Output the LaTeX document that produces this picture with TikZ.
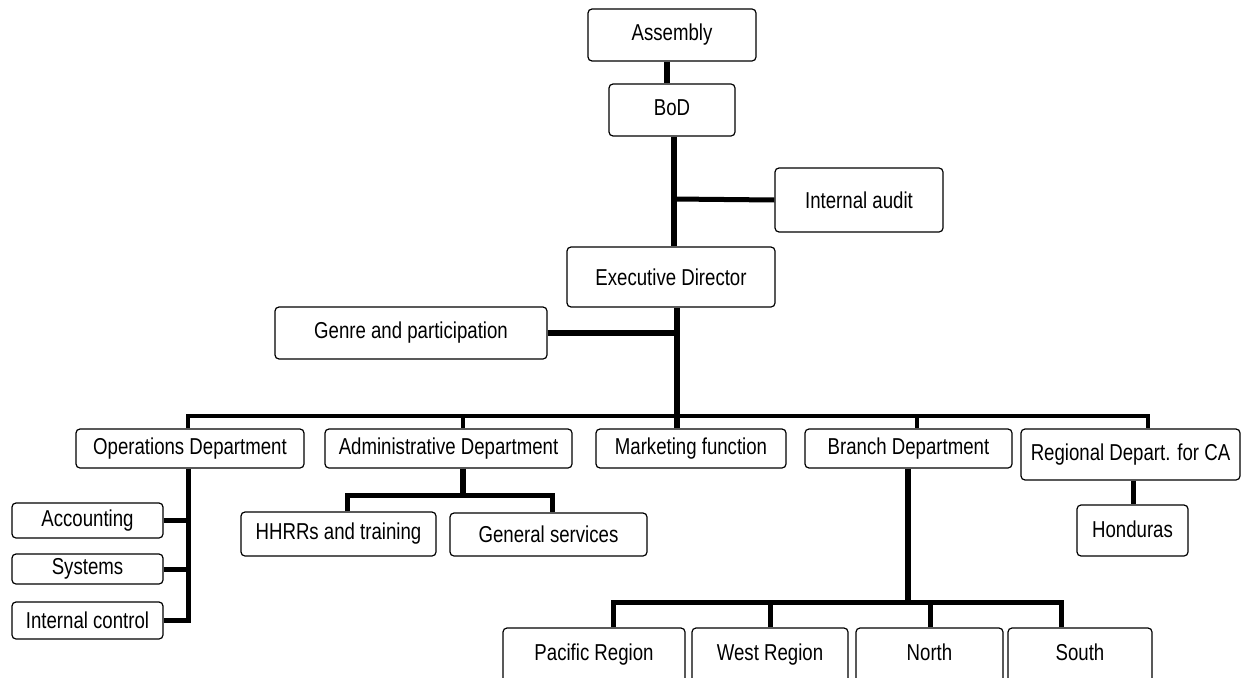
\documentclass[tikz,border=0pt]{standalone}
\usepackage{fontspec}
\setmainfont{Liberation Sans}[FakeStretch=0.81]
\begin{document}
\begin{tikzpicture}[x=1pt,y=-1pt,
  box/.style={draw, rounded corners=4pt, line width=1.2pt, inner sep=0pt,
    font=\fontsize{23}{26}\selectfont, fill=white},
  thickc/.style={line width=6.5pt},
  medc/.style={line width=5pt},
  thinc/.style={line width=4.2pt}]
\useasboundingbox (0,0) rectangle (1241,677);
\clip (0,0) rectangle (1241,677);
\fill[white] (0,0) rectangle (1241,677);
% coordinates of junctions
\coordinate (j1) at (674,199);
\coordinate (j2) at (677,333);
\coordinate (busL) at (188,416);
\coordinate (busR) at (1148,416);
\coordinate (bA) at (463,416);
\coordinate (bB) at (917,416);
\coordinate (opsv) at (188,622);
\coordinate (aj) at (463,495);
\coordinate (hL) at (347,495);
\coordinate (hR) at (552,495);
\coordinate (bj) at (908,602);
\coordinate (bL) at (613,602);
\coordinate (bW) at (770,602);
\coordinate (bN) at (930,602);
\coordinate (bR) at (1061,602);
\path
 node[box, minimum width=168, minimum height=52] (asm) at (672,35) {\raisebox{5pt}{Assembly}}
 node[box, minimum width=126, minimum height=52] (bod) at (672,110) {\raisebox{5pt}{BoD}}
 node[box, minimum width=168, minimum height=64] (ia) at (859,200) {Internal audit}
 node[box, minimum width=208, minimum height=60] (ed) at (671,277) {Executive Director}
 node[box, minimum width=272, minimum height=52] (gen) at (411,333) {\raisebox{2pt}{Genre and participation}}
 node[box, minimum width=228, minimum height=39] (ops) at (190,448.5) {Operations Department}
 node[box, minimum width=247, minimum height=39] (adm) at (448.5,448.5) {Administrative Department}
 node[box, minimum width=190, minimum height=39] (mkt) at (691,448.5) {Marketing function}
 node[box, minimum width=207, minimum height=39] (br) at (908.5,448.5) {Branch Department}
 node[box, minimum width=219, minimum height=51] (reg) at (1130.5,454.5) {\raisebox{5pt}{Regional Depart. for CA}}
 node[box, minimum width=151, minimum height=35] (acc) at (87.5,520.5) {Accounting}
 node[box, minimum width=151, minimum height=30] (sys) at (87.5,569) {Systems}
 node[box, minimum width=151, minimum height=37] (ic) at (87.5,620.5) {Internal control}
 node[box, minimum width=195, minimum height=44] (hr) at (338.5,534) {HHRRs and training}
 node[box, minimum width=197, minimum height=43] (gs) at (548.5,534.5) {General services}
 node[box, minimum width=111, minimum height=51] (hon) at (1132.5,530.5) {\raisebox{3pt}{Honduras}}
 node[box, minimum width=182, minimum height=54] (pac) at (594,655) {\raisebox{5pt}{Pacific Region}}
 node[box, minimum width=156, minimum height=54] (wst) at (770,655) {\raisebox{5pt}{West Region}}
 node[box, minimum width=147, minimum height=54] (nor) at (929.5,655) {\raisebox{5pt}{North}}
 node[box, minimum width=144, minimum height=54] (sou) at (1080,655) {\raisebox{5pt}{South}};
% top spine
\draw[thickc] ([xshift=-5pt]asm.south) -- ([xshift=-5pt]bod.north);
\draw[thickc] ([xshift=2pt]bod.south) -- ([xshift=3pt]ed.north);
\draw[medc] (j1) -- (ia.west);
\draw[thickc] ([xshift=6pt]ed.south) -- ([xshift=-14pt]mkt.north);
\draw[thickc] (gen.east) -- (j2);
% department bus
\draw[thinc] (busL |- ops.north) -- (busL) -- (busR) -- (busR |- reg.north);
\draw[thinc] (bA) -- (bA |- adm.north);
\draw[thinc] (bB) -- (bB |- br.north);
% operations children
\draw[medc] (ops.south -| opsv) |- (ic.east);
\draw[medc] (acc.east) -- (acc.east -| opsv);
\draw[medc] (sys.east) -- (sys.east -| opsv);
% administrative children
\draw[thickc] (adm.south -| aj) -- (aj);
\draw[medc] (hr.north -| hL) -- (hL) -- (hR) -- (gs.north -| hR);
% branch children
\draw[thickc] (br.south -| bj) -- (bj);
\draw[medc] (pac.north -| bL) -- (bL) -- (bR) -- (sou.north -| bR);
\draw[medc] (bW) -- (wst.north -| bW);
\draw[medc] (bN) -- (nor.north -| bN);
% regional child
\draw[medc] ([xshift=2.5pt]reg.south) -- ([xshift=0.5pt]hon.north);
\end{tikzpicture}
\end{document}
